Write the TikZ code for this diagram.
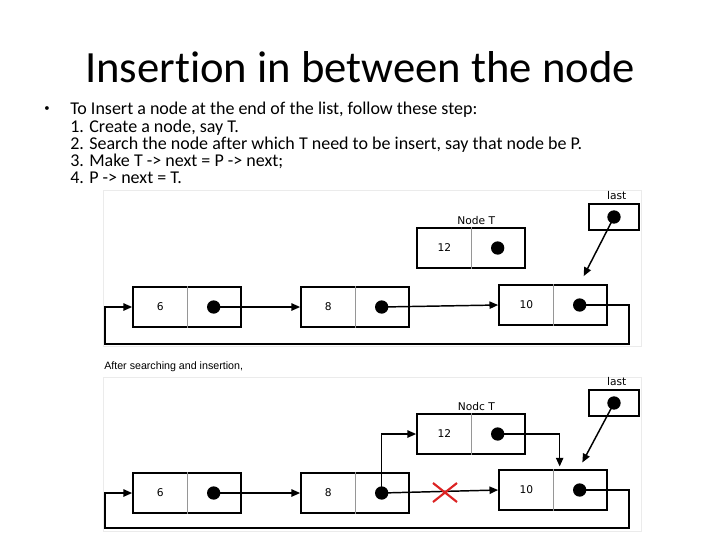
\documentclass[tikz,border=0pt]{standalone}
\usepackage{fontspec}
\setmainfont{Carlito}[Ligatures=NoCommon]
\newfontfamily\dejavu{DejaVu Sans}
\newfontfamily\arial{Liberation Sans}
\usetikzlibrary{arrows.meta, positioning}
\definecolor{crossred}{RGB}{220, 35, 35}
\definecolor{divgray}{RGB}{150, 150, 150}

% one list node: name, centre, value
\newcommand{\listnode}[3]{%
    \node[cell] (#1) at (#2) {};
    \draw[divider] (#1.north) -- (#1.south);
    \node[val] (#1v) at ([xshift=-20pt]#1.center) {#3};
    \node[dot] (#1p) at ([xshift=20pt]#1.center) {};
}

\begin{document}
\begin{tikzpicture}[
                x=0.75pt, y=-0.75pt,
                cell/.style={rectangle, draw=black, line width=1.3pt,
                    minimum width=81pt, minimum height=30pt, inner sep=0pt},
                lastbox/.style={rectangle, draw=black, line width=1.3pt,
                    minimum width=37.5pt, minimum height=20pt, inner sep=0pt},
                divider/.style={draw=divgray, line width=0.6pt},
                val/.style={font=\dejavu\fontsize{8}{9}\selectfont, inner sep=1pt},
                dot/.style={circle, fill=black, minimum size=10pt, inner sep=0pt},
                link/.style={-{Triangle[length=6.5pt,width=5.5pt]}, line width=1.1pt},
                frame/.style={draw=black!8, line width=0.6pt},
                crossline/.style={draw=crossred, line width=1.6pt}
                ]
                \useasboundingbox (0,0) rectangle (720,540);

                % title and steps
                \node[font=\fontsize{33.5}{40}\selectfont, anchor=base] (title)
                    at (360,82) {Insertion in between the node};
                \node[font=\fontsize{8}{9}\selectfont] (bullet) at (47,109) {\textbullet};
                \node[font=\fontsize{13.5}{12.94}\selectfont, anchor=north west,
                    align=left, inner sep=0pt] (steps) at (70,102)
                    {To Insert a node at the end of the list, follow these step:\\
                     1. Create a node, say T.\\
                     2. Search the node after which T need to be insert, say that node be P.\\
                     3. Make T -> next = P -> next;\\
                     4. P -> next = T.};

                % before insertion
                \draw[frame] (103,190) rectangle (641,346);
                \listnode{top6}{187,307}{6}
                \listnode{top8}{355,307}{8}
                \listnode{top10}{553,305}{10}
                \listnode{topT}{471,248}{12}
                \node[val, above=1pt of topT, xshift=4pt] (topTlbl) {Node T};
                \node[lastbox] (toplast) at (614,217) {};
                \node[dot] (toplastp) at (toplast.center) {};
                \node[val, above=1pt of toplast, xshift=2pt] (toplastlbl) {last};
                \draw[link] (top6p.center) -- (top8.west);
                \draw[link] (top8p.center) -- (top10.west);
                \draw[link] (top10p.center) -| (629,344) -| (105,307) -- (top6.west);
                \draw[link] (toplastp.center) -- ([xshift=23pt,yshift=6pt]top10.north);

                % after insertion
                \node[font=\arial\fontsize{8}{9}\selectfont, anchor=west, inner sep=0pt]
                    (aftertxt) at (104,367) {After searching and insertion,};
                \draw[frame] (103,377) rectangle (641,531);
                \listnode{bot6}{187,493}{6}
                \listnode{bot8}{355,493}{8}
                \listnode{bot10}{553,490}{10}
                \listnode{botT}{471,434}{12}
                \node[val, above=1pt of botT, xshift=4pt] (botTlbl) {Nodc T};
                \node[lastbox] (botlast) at (614,403) {};
                \node[dot] (botlastp) at (botlast.center) {};
                \node[val, above=1pt of botlast, xshift=2pt] (botlastlbl) {last};
                \draw[link] (bot6p.center) -- (bot6p.center -| bot8.west);
                \draw[link] (bot8p.center) -- (bot10.west);
                \draw[link] (bot8p.center) |- (botT.west);
                \draw[link] (botTp.center) -| ([xshift=5pt,yshift=2pt]bot10.north);
                \draw[link] (botlastp.center) -- ([xshift=22pt,yshift=5pt]bot10.north);
                \draw[link] (bot10p.center) -| (629,528) -| (105,493) -- (bot6.west);
                \draw[crossline] (433,483) -- (457,502) (433,502) -- (457,483);
            \end{tikzpicture}
\end{document}
